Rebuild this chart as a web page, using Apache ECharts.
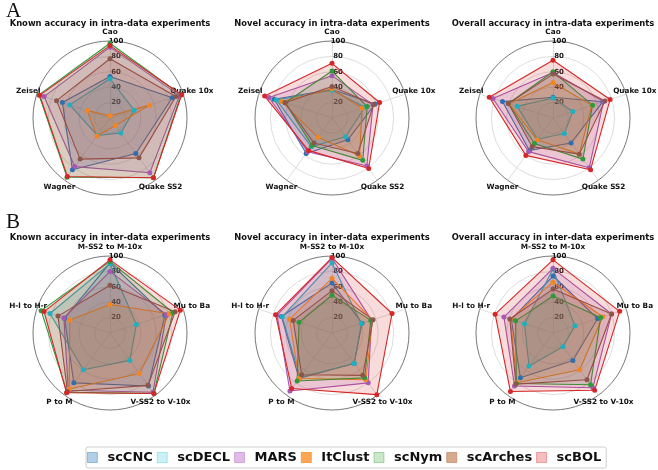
<!DOCTYPE html>
<html><head><meta charset="utf-8">
<script src="https://cdn.jsdelivr.net/npm/echarts@6/dist/echarts.min.js"></script>
<style>html,body{margin:0;padding:0;background:#fff}#c{width:658px;height:470px}</style>
</head><body><div id="c"></div>
<script>
// ---------------- data ----------------
const methods = ['scCNC', 'scDECL', 'MARS', 'ItClust', 'scNym', 'scArches', 'scBOL'];
const intraAxes = ['Cao', 'Quake 10x', 'Quake SS2', 'Wagner', 'Zeisel'];
const interAxes = ['M-SS2 to M-10x', 'Mu to Ba', 'V-SS2 to V-10x', 'P to M', 'H-l to H-r'];
const panelTitles = [
  'Known accuracy in intra-data experiments',
  'Novel accuracy in intra-data experiments',
  'Overall accuracy in intra-data experiments',
  'Known accuracy in inter-data experiments',
  'Novel accuracy in inter-data experiments',
  'Overall accuracy in inter-data experiments'
];
// rows follow `methods`, columns follow the axis lists (clockwise from top)
const knownIntra = [
  [54, 85, 57, 83, 65],
  [51, 33, 24, 28, 55],
  [92, 95, 88, 78, 90],
  [3, 54, 12, 29, 31],
  [97, 97, 96, 95, 97],
  [77, 90, 64, 66, 73],
  [94, 98, 96, 94, 96]
];
const novelIntra = [
  [37, 59, 35, 57, 79],
  [36, 45, 30, 46, 76],
  [55, 56, 77, 54, 86],
  [38, 41, 61, 31, 69],
  [61, 48, 68, 44, 64],
  [41, 57, 57, 40, 64],
  [71, 65, 81, 52, 92]
];
const overallIntra = [
  [27, 68, 40, 52, 69],
  [26, 27, 25, 34, 49],
  [59, 69, 80, 54, 82],
  [46, 53, 58, 35, 60],
  [60, 54, 66, 41, 61],
  [57, 71, 58, 46, 61],
  [75, 78, 83, 60, 87]
];
const knownInter = [
  [91, 75, 85, 80, 62],
  [90, 36, 44, 59, 82],
  [80, 77, 95, 92, 63],
  [37, 81, 65, 90, 55],
  [93, 86, 97, 95, 94],
  [62, 89, 84, 94, 71],
  [95, 96, 97, 96, 90]
];
const novelInter = [
  [65, 41, 49, 73, 69],
  [91, 40, 49, 71, 68],
  [97, 54, 80, 93, 75],
  [71, 55, 75, 73, 58],
  [49, 53, 72, 77, 45],
  [55, 56, 68, 67, 53],
  [98, 82, 99, 89, 77]
];
const overallInter = [
  [74, 61, 44, 72, 57],
  [83, 30, 22, 53, 39],
  [84, 80, 88, 85, 67],
  [66, 68, 59, 80, 58],
  [48, 65, 83, 81, 51],
  [57, 80, 75, 82, 59],
  [95, 91, 92, 94, 79]
];

// ---------------- style ----------------
const lineColors = ['#2f6fb0', '#1fb0c0', '#a558b5', '#f5861f', '#2e9a3a', '#8c564b', '#d62728'];
const legendFill = ['rgba(31,119,180,0.35)', 'rgba(23,190,207,0.22)', 'rgba(170,80,190,0.38)', 'rgba(255,127,14,0.7)', 'rgba(44,160,44,0.25)', 'rgba(180,100,50,0.55)', 'rgba(225,40,40,0.3)'];
const legendBorder = ['rgba(31,119,180,0.5)', 'rgba(23,190,207,0.4)', 'rgba(170,80,190,0.5)', 'rgba(255,127,14,0.8)', 'rgba(44,160,44,0.45)', 'rgba(180,100,50,0.6)', 'rgba(225,40,40,0.45)'];
const FONT = 'DejaVu Sans';

const panels = [
  { axes: intraAxes, vals: knownIntra, cx: 110, cy: 118 },
  { axes: intraAxes, vals: novelIntra, cx: 332, cy: 118 },
  { axes: intraAxes, vals: overallIntra, cx: 553, cy: 118 },
  { axes: interAxes, vals: knownInter, cx: 110, cy: 333 },
  { axes: interAxes, vals: novelInter, cx: 332, cy: 333 },
  { axes: interAxes, vals: overallInter, cx: 553, cy: 333 }
];
// ECharts places indicators counter-clockwise; reorder so they read clockwise
const order = [0, 4, 3, 2, 1];

const radars = [];
const series = [];
const graphics = [];
panels.forEach((p, pi) => {
  radars.push({
    center: [p.cx, p.cy],
    radius: 77,
    startAngle: 90,
    shape: 'circle',
    splitNumber: 5,
    nameGap: 9,
    indicator: order.map((k, i) => {
      const ind = { name: p.axes[k], min: 0, max: 100 };
      if (i === 0) {
        ind.axisLabel = {
          show: true, showMinLabel: false, fontSize: 7, fontWeight: 'bold', fontFamily: FONT,
          color: '#111', align: 'center', verticalAlign: 'middle', margin: -6
        };
      }
      return ind;
    }),
    axisName: { color: '#111', fontSize: 7.3, fontWeight: 'bold', fontFamily: FONT, align: 'center', verticalAlign: 'middle' },
    axisLine: { lineStyle: { color: '#d4d4d4', width: 0.8 } },
    splitLine: { lineStyle: { color: ['#d4d4d4', '#d4d4d4', '#d4d4d4', '#d4d4d4', '#d4d4d4', '#555'], width: 0.8 } },
    splitArea: { show: false },
    axisTick: { show: false },
    axisLabel: { show: false }
  });
  methods.forEach((m, mi) => {
    const col = lineColors[mi];
    series.push({
      type: 'radar', radarIndex: pi, name: m,
      symbol: 'circle', symbolSize: 5,
      lineStyle: { color: col, width: 1.1 },
      itemStyle: { color: col },
      areaStyle: { color: col, opacity: 0.16 },
      data: [{ name: m, value: order.map(k => p.vals[mi][k]) }]
    });
  });
  graphics.push({
    type: 'text', x: p.cx, y: pi < 3 ? 24 : 238,
    style: { text: panelTitles[pi], fontSize: 8.4, fontWeight: 'bold', fontFamily: FONT, fill: '#111', align: 'center', verticalAlign: 'middle' }
  });
});
graphics.push({ type: 'text', x: 6, y: 1, style: { text: 'A', fontSize: 21, fontFamily: 'Liberation Serif', fill: '#111' } });
graphics.push({ type: 'text', x: 6, y: 212, style: { text: 'B', fontSize: 21, fontFamily: 'Liberation Serif', fill: '#111' } });

const chart = echarts.init(document.getElementById('c'), null, { renderer: 'canvas' });
chart.setOption({
  animation: false,
  backgroundColor: '#fff',
  radar: radars,
  series: series,
  graphic: graphics,
  legend: {
    left: 86, top: 447,
    icon: 'path://M0,0h10v10h-10z',
    itemWidth: 20, itemHeight: 10, itemGap: 4,
    padding: [4, 5, 4, 1],
    borderColor: '#cfcfcf', borderWidth: 1, borderRadius: 2,
    textStyle: { fontSize: 13, fontWeight: 'bold', fontFamily: FONT, color: '#111' },
    data: methods.map((m, i) => ({ name: m, itemStyle: { color: legendFill[i], borderColor: legendBorder[i], borderWidth: 0.8 } }))
  }
});
</script></body></html>
